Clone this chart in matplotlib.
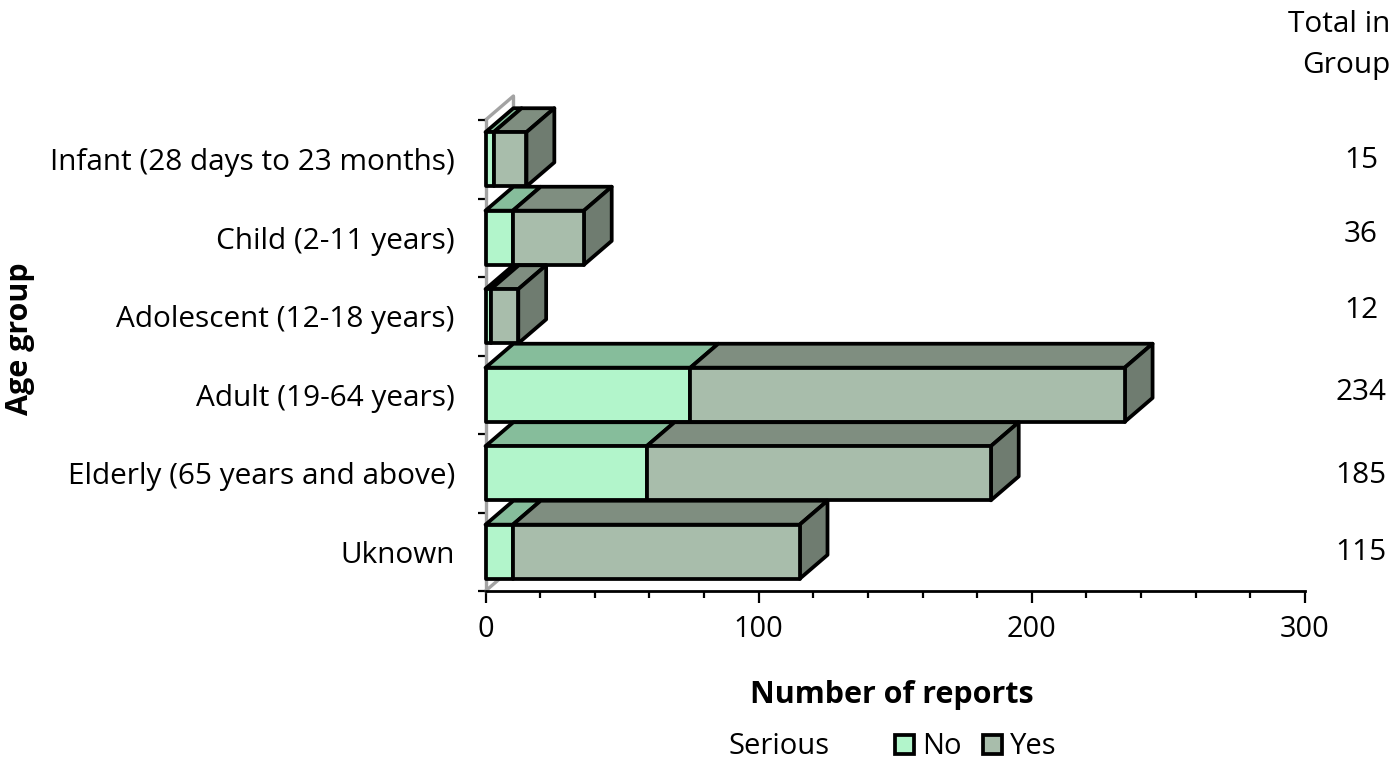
import matplotlib
matplotlib.use("Agg")
import matplotlib.pyplot as plt
from matplotlib.patches import Polygon
import numpy as np

plt.rcParams['font.family'] = ['Open Sans', 'DejaVu Sans']

# --- data ---
age_groups = ["Infant (28 days to 23 months)", "Child (2-11 years)", "Adolescent (12-18 years)",
              "Adult (19-64 years)", "Elderly (65 years and above)", "Uknown"]
serious_no = [3, 10, 2, 75, 59, 10]
serious_yes = [12, 26, 10, 159, 126, 105]
totals = [15, 36, 12, 234, 185, 115]
total_label_y = [161, 234, 310, 393, 476, 553]  # pixels from top, the boxes are placed by hand

# --- styles ---
W, H = 1396, 774
col_no = "#b2f5cb"
col_no_top = "#86bd9b"
col_yes = "#a8bdab"
col_yes_top = "#7f8e80"
col_yes_side = "#6f7c70"
depth_x = 10.2     # bar depth, x units
depth_y = 0.305    # bar depth, category units
bar_h = 0.69
lw = 2.7
fs = 21.4

fig = plt.figure(figsize=(W/100, H/100), dpi=100)
ax = fig.add_axes([485.5/W, 1-591/H, 819.5/W, 471/H])
ax.set_xlim(0, 300)
ax.set_ylim(5.5, -0.5)

y = np.arange(len(age_groups))
no = np.array(serious_no)
yes = np.array(serious_yes)

# --- wall edges behind the bars ---
wall = dict(color="#a3a3a3", lw=2.4, clip_on=False, zorder=1, solid_capstyle="round")
ax.plot([0, depth_x], [-0.5, -0.5-depth_y], **wall)
ax.plot([depth_x, depth_x], [-0.5-depth_y, -0.5-depth_y+0.15], **wall)
ax.plot([0, depth_x], [5.5, 5.5-depth_y], **wall)

# --- bars, top group first so the lower ones overlap it ---
bars_no = None
bars_yes = None
for i in y:
    top = i - bar_h/2
    bottom = i + bar_h/2
    end = no[i] + yes[i]
    edge = dict(edgecolor="black", linewidth=lw, joinstyle="round", clip_on=False, zorder=3+i)
    ax.add_patch(Polygon([(0, top), (depth_x, top-depth_y), (no[i]+depth_x, top-depth_y), (no[i], top)],
                         facecolor=col_no_top, **edge))
    ax.add_patch(Polygon([(no[i], top), (no[i]+depth_x, top-depth_y), (end+depth_x, top-depth_y), (end, top)],
                         facecolor=col_yes_top, **edge))
    ax.add_patch(Polygon([(end, top), (end+depth_x, top-depth_y), (end+depth_x, bottom-depth_y), (end, bottom)],
                         facecolor=col_yes_side, **edge))
    b1 = ax.barh(i, no[i], height=bar_h, color=col_no, **edge)
    b2 = ax.barh(i, yes[i], left=no[i], height=bar_h, color=col_yes, **edge)
    bars_no, bars_yes = b1, b2

# --- axes formatting ---
for s in ["top", "right"]:
    ax.spines[s].set_visible(False)
ax.spines["left"].set_color("#a3a3a3")
ax.spines["left"].set_linewidth(2.4)
ax.spines["left"].set_zorder(2)
ax.spines["bottom"].set_linewidth(2)

ax.set_xticks([0, 100, 200, 300])
ax.set_xticks(np.arange(0, 301, 20), minor=True)
ax.tick_params(axis="x", which="major", length=8.5, width=1.6, labelsize=fs-0.6, pad=8.5)
ax.tick_params(axis="x", which="minor", length=5, width=1.6)

ax.set_yticks(np.arange(-0.5, 6))
ax.set_yticklabels([])
ax.set_yticks(y, age_groups, minor=True)
ax.tick_params(axis="y", which="major", length=6, width=1.6)
ax.tick_params(axis="y", which="minor", length=0, labelsize=fs, pad=22)

ax.set_xlabel("Number of reports", fontsize=22, fontweight="bold")
ax.xaxis.set_label_coords(0.496, -0.19)
ax.set_ylabel("Age group", fontsize=22, fontweight="bold")
ax.yaxis.set_label_coords(-0.55, 0.536)

# --- totals column ---
fig.text(1390/W, 1-25/H, "Total in", fontsize=fs, ha="right", va="center")
fig.text(1390/W, 1-65/H, "Group", fontsize=fs, ha="right", va="center")
for t, py in zip(totals, total_label_y):
    fig.text(1361/W, 1-py/H, str(t), fontsize=fs, ha="center", va="center")

# --- legend ---
fig.text(729/W, 1-747/H, "Serious", fontsize=fs-0.4, ha="left", va="center")
fig.legend([bars_no, bars_yes], ["No", "Yes"], ncol=2, frameon=False, fontsize=fs-0.4,
           loc="center left", bbox_to_anchor=(886/W, 1-747/H), handlelength=0.65, handleheight=0.65,
           handletextpad=0.28, columnspacing=0.75, borderpad=0.3, borderaxespad=0)

plt.savefig("out.png", dpi=100)
